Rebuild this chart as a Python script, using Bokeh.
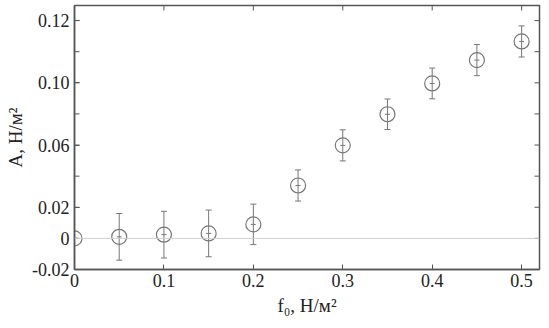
import math
from bokeh.plotting import figure
from bokeh.models import ColumnDataSource, Whisker, Span, LinearAxis, FixedTicker, Range1d
from bokeh.models import TeeHead
from bokeh.embed import file_html
from bokeh.resources import INLINE

# data (y in the chart's uniform axis units)
f0 = [0.0, 0.05, 0.10, 0.15, 0.20, 0.25, 0.30, 0.35, 0.40, 0.45, 0.50]
A = [0.0, 0.001, 0.0024, 0.0032, 0.009, 0.034, 0.0598, 0.0798, 0.0996, 0.1146, 0.1266]
err = [0.0, 0.015, 0.015, 0.015, 0.013, 0.010, 0.010, 0.0098, 0.0099, 0.010, 0.010]

x_ticks = [0, 0.1, 0.2, 0.3, 0.4, 0.5]
y_label_ticks = [-0.02, 0.0, 0.02, 0.06, 0.10, 0.14]
y_labels = ["-0.02", "0", "0.02", "0.06", "0.10", "0.12"]
y_all_ticks = [-0.02, 0.0, 0.02, 0.04, 0.06, 0.08, 0.10, 0.12, 0.14]

src = ColumnDataSource(dict(x=f0, y=A,
                            lo=[a - e for a, e in zip(A, err)],
                            hi=[a + e for a, e in zip(A, err)]))

FONT = "Liberation Serif"
FG = "#555555"
MARK = "#777777"

xr = Range1d(0, 0.52)
yrng = Range1d(-0.02, 0.1497)
p = figure(width=549, height=328, output_backend="svg", toolbar_location=None,
           x_range=xr, y_range=yrng,
           min_border_left=74, min_border_right=10, min_border_top=5, min_border_bottom=59,
           x_axis_location=None, y_axis_location=None)
p.grid.visible = False
p.outline_line_color = FG
p.outline_line_width = 1.5
p.background_fill_color = "white"
p.border_fill_color = "white"

xb = LinearAxis(ticker=FixedTicker(ticks=x_ticks), axis_label="f₀, Н/м²")
yl = LinearAxis(ticker=FixedTicker(ticks=y_label_ticks), axis_label="A, Н/м²")
yl.major_label_overrides = {t: l for t, l in zip(y_label_ticks, y_labels)}
xb.major_label_overrides = {0: "0"}
for ax in (xb, yl):
    ax.major_tick_in = 5
    ax.major_tick_out = 0
    ax.minor_tick_line_color = None
    ax.axis_line_color = FG
    ax.axis_line_width = 1.5
    ax.major_tick_line_color = FG
    ax.major_label_text_font = FONT
    ax.major_label_text_font_size = "18px"
    ax.major_label_text_color = "#222222"
    ax.axis_label_text_font = FONT
    ax.axis_label_text_font_size = "19px"
    ax.axis_label_text_font_style = "normal"
    ax.axis_label_text_color = "#222222"
xb.major_label_standoff = 4
xb.axis_label_standoff = 5
yl.major_label_standoff = 5
yl.axis_label_standoff = 3
p.add_layout(xb, "below")
p.add_layout(yl, "left")

# inward tick marks on the other sides (and unlabeled left ticks), clipped to the frame
n_x = len(x_ticks)
p.scatter(x=x_ticks, y=[yrng.end] * n_x, marker="dash", size=10, angle=math.pi / 2,
          line_color=FG, line_width=1)
n_y = len(y_all_ticks)
p.scatter(x=[xr.end] * n_y, y=y_all_ticks, marker="dash", size=10,
          line_color=FG, line_width=1)
p.scatter(x=[xr.start] * n_y, y=y_all_ticks, marker="dash", size=10,
          line_color=FG, line_width=1)

p.add_layout(Span(location=0, dimension="width", line_color="#d0d0d0", line_width=1))

w = Whisker(source=src, base="x", lower="lo", upper="hi", line_color=MARK, line_width=1,
            upper_head=TeeHead(size=6, line_color=MARK, line_width=1),
            lower_head=TeeHead(size=6, line_color=MARK, line_width=1))
p.add_layout(w)
p.scatter("x", "y", source=src, marker="circle", size=15, fill_color=None,
          line_color=MARK, line_width=1.2)
p.scatter("x", "y", source=src, marker="dash", size=5, line_color=MARK, line_width=1)

open("out.html", "w").write(file_html(p, INLINE))
